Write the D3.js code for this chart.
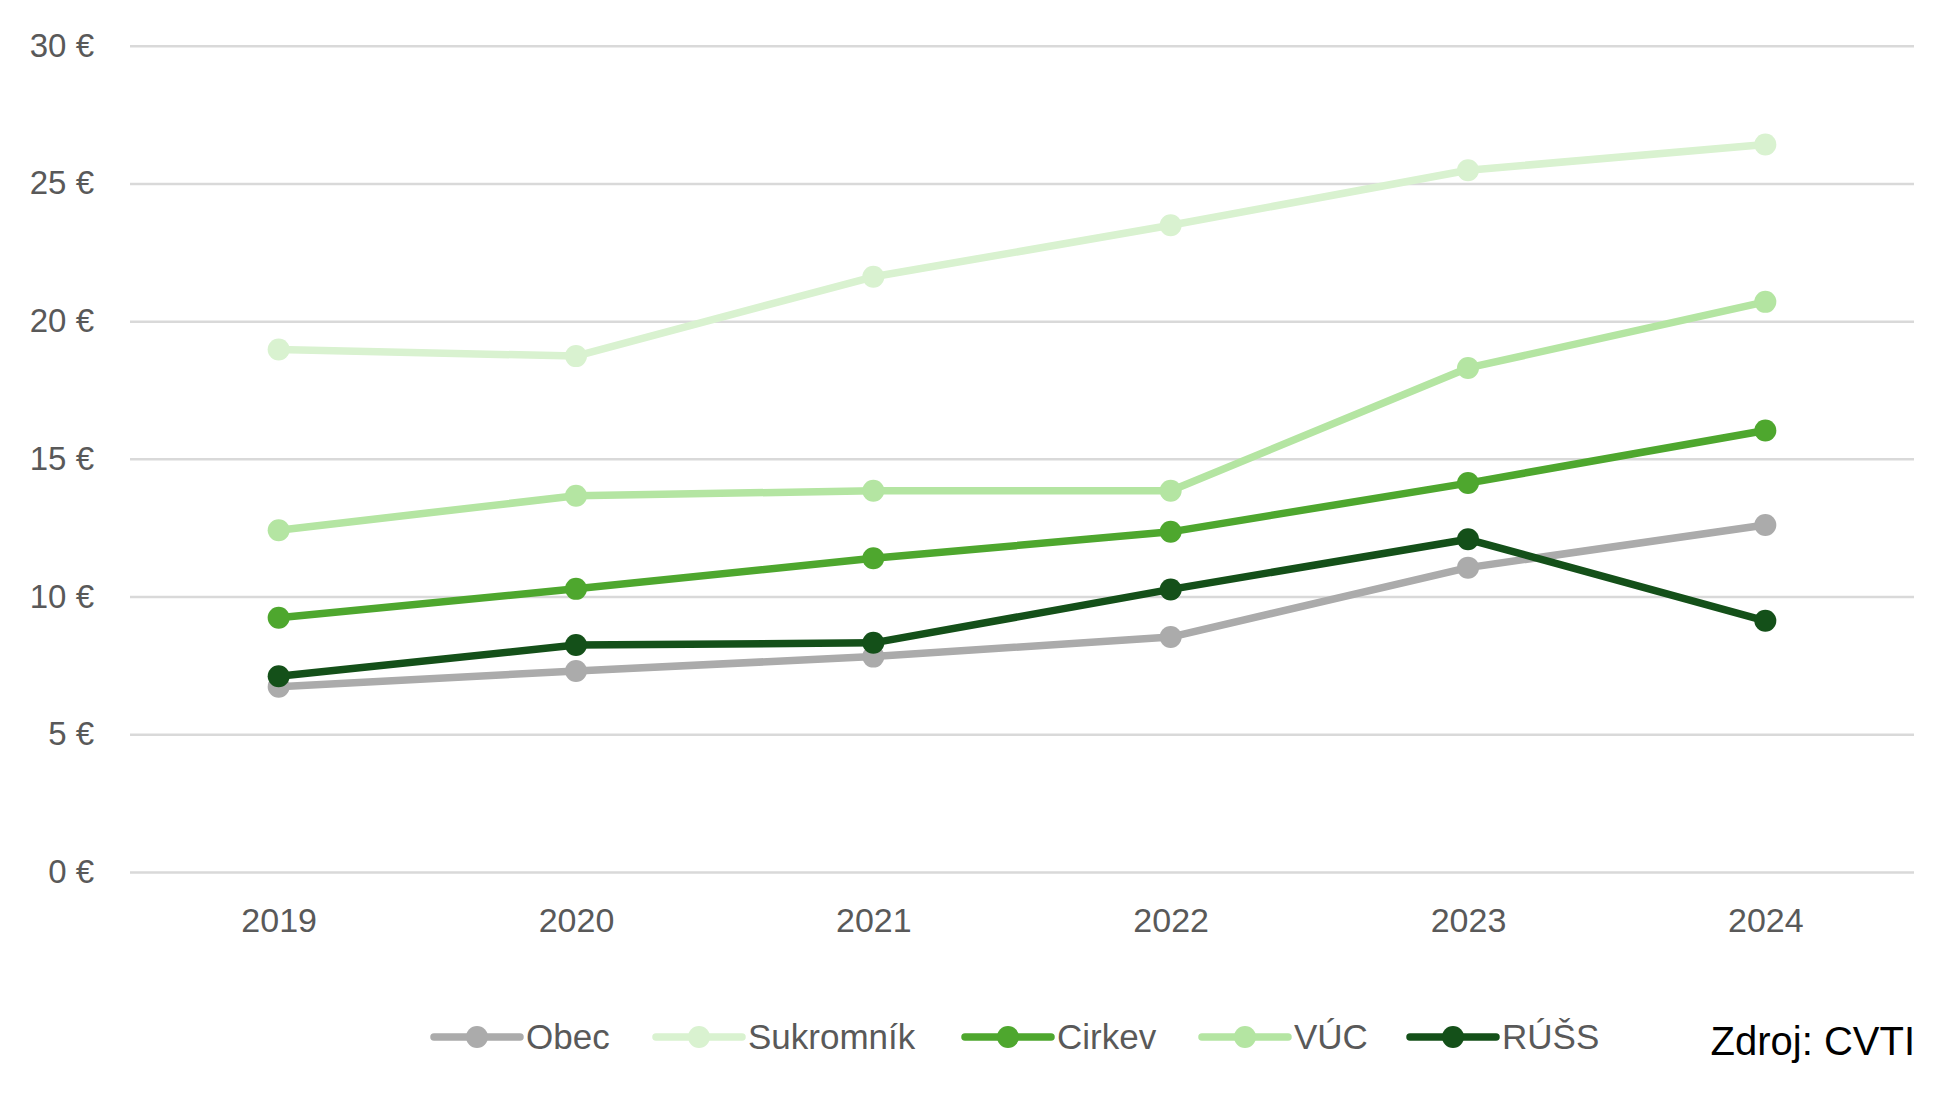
<!DOCTYPE html>
<html lang="sk">
<head>
  <meta charset="UTF-8" />
  <title>Náklady podľa zriaďovateľa</title>
  <script src="https://d3js.org/d3.v7.min.js"></script>
  <style>
    body { margin: 0; background: #fff; }
    svg { display: block; font-family: 'Liberation Sans', Arial, sans-serif; }
  </style>
</head>
<body>
  <div id="chart"></div>
  <script>
    const years = ["2019", "2020", "2021", "2022", "2023", "2024"];
    const yTicks = [0, 5, 10, 15, 20, 25, 30];

    const obec = [6.73, 7.30, 7.82, 8.53, 11.05, 12.60];
    const sukromnik = [18.97, 18.73, 21.61, 23.48, 25.48, 26.41];
    const cirkev = [9.23, 10.28, 11.39, 12.35, 14.12, 16.03];
    const vuc = [12.41, 13.66, 13.84, 13.84, 18.30, 20.70];
    const russ = [7.11, 8.24, 8.32, 10.26, 12.08, 9.12];

    const seriesNames = ["Obec", "Sukromník", "Cirkev", "VÚC", "RÚŠS"];
    const seriesValues = [obec, sukromnik, cirkev, vuc, russ];
    const colors = ["#ababab", "#d9f2d0", "#4ea72e", "#b4e5a2", "#145019"];

    const width = 1960, height = 1102;
    const svg = d3.select("#chart").append("svg")
      .attr("width", width)
      .attr("height", height);

    const x = d3.scalePoint()
      .domain(years)
      .range([130, 1914])
      .padding(0.5);

    const y = d3.scaleLinear()
      .domain([0, 30])
      .range([872, 45.7]);

    // gridlines + y labels
    const yAxis = svg.append("g")
      .attr("transform", "translate(130,0)")
      .call(d3.axisLeft(y).tickValues(yTicks).tickSize(-1784).tickFormat(d => d + " €").tickPadding(36));
    yAxis.select(".domain").remove();
    yAxis.selectAll(".tick line").attr("stroke", "#d9d9d9").attr("stroke-width", 2.5);
    yAxis.selectAll(".tick text")
      .attr("fill", "#595959")
      .attr("font-size", 33)
      .attr("font-family", "'Liberation Sans', Arial, sans-serif");

    // x labels
    const xAxis = svg.append("g")
      .attr("transform", "translate(0,872)")
      .call(d3.axisBottom(x).tickSize(0).tickPadding(36));
    xAxis.select(".domain").remove();
    xAxis.selectAll(".tick text")
      .attr("fill", "#595959")
      .attr("font-size", 34)
      .attr("font-family", "'Liberation Sans', Arial, sans-serif");

    const line = d3.line()
      .x((d, i) => x(years[i]))
      .y(d => y(d));

    seriesValues.forEach((vals, k) => {
      const g = svg.append("g");
      g.append("path")
        .datum(vals)
        .attr("fill", "none")
        .attr("stroke", colors[k])
        .attr("stroke-width", 7.5)
        .attr("stroke-linejoin", "round")
        .attr("d", line);
      g.selectAll("circle")
        .data(vals)
        .join("circle")
        .attr("cx", (d, i) => x(years[i]))
        .attr("cy", d => y(d))
        .attr("r", 11)
        .attr("fill", colors[k]);
    });

    // legend
    const legendX = [434, 656, 965, 1202, 1410];
    const legendY = 1037;
    const legend = svg.append("g");
    seriesNames.forEach((name, k) => {
      const g = legend.append("g").attr("transform", `translate(${legendX[k]},${legendY})`);
      g.append("line")
        .attr("x1", 0).attr("x2", 86)
        .attr("stroke", colors[k])
        .attr("stroke-width", 7.5)
        .attr("stroke-linecap", "round");
      g.append("circle")
        .attr("cx", 43)
        .attr("r", 11)
        .attr("fill", colors[k]);
      g.append("text")
        .attr("x", 92)
        .attr("dy", "0.35em")
        .attr("fill", "#595959")
        .attr("font-size", 35)
        .text(name);
    });

    svg.append("text")
      .attr("x", 1915)
      .attr("y", 1055)
      .attr("text-anchor", "end")
      .attr("fill", "#000")
      .attr("font-size", 40)
      .text("Zdroj: CVTI");
  </script>
</body>
</html>
